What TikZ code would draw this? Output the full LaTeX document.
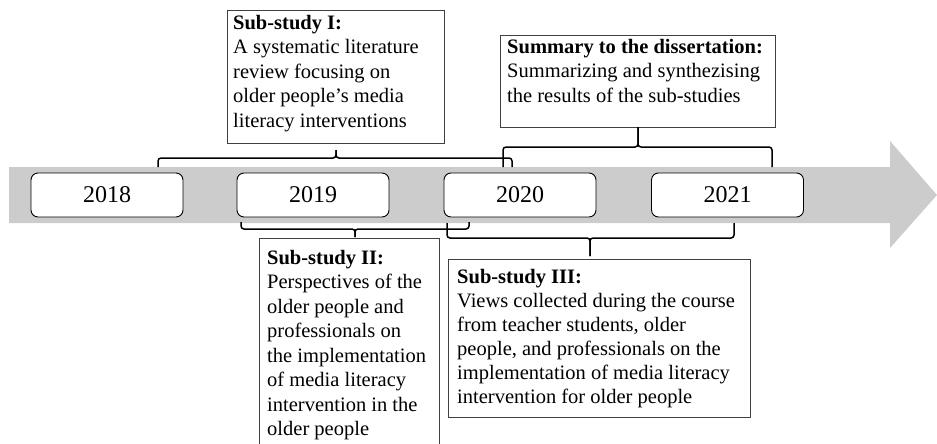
\documentclass[tikz,border=0pt]{standalone}
\usepackage{fontspec}
\setmainfont{Liberation Serif}
\begin{document}
\begin{tikzpicture}[x=1pt,y=-1pt,
  yearbox/.style={draw=black, line width=0.9pt, rounded corners=7pt, fill=white,
    minimum width=152pt, minimum height=44pt, inner sep=0pt,
    font=\fontsize{24}{28}\selectfont},
  studybox/.style={draw=black!75, line width=1pt, fill=white, inner sep=0pt},
  boxtext/.style={anchor=north west, inner sep=0pt, align=left,
    font=\fontsize{20.5}{24.5}\selectfont},
  brace/.style={draw=black, line width=1.5pt, rounded corners=3pt}]

\clip (0,0) rectangle (937,444);

% timeline arrow
\fill[black!20] (9,167) -- (890,167) -- (890,141) -- (937,195) -- (890,248)
  -- (890,223) -- (9,223) -- cycle;

% study boxes
\node[studybox, minimum width=217pt, minimum height=132pt] (s1) at (335.5,77) {};
\node[studybox, minimum width=275pt, minimum height=91pt] (sum) at (637.5,81.5) {};
\node[studybox, minimum width=180pt, minimum height=222pt] (s2) at (349,349) {};
\node[studybox, minimum width=302pt, minimum height=158pt] (s3) at (599,338) {};

\node[boxtext] (t1) at (233,15) {\textbf{Sub-study I:}\\A systematic literature\\review focusing on\\older people’s media\\literacy interventions};
\node[boxtext] (tsum) at (507,39) {\textbf{Summary to the dissertation:}\\Summarizing and synthezising\\the results of the sub-studies};
\node[boxtext] (t2) at (267,250) {\textbf{Sub-study II:}\\Perspectives of the\\older people and\\professionals on\\the implementation\\of media literacy\\intervention in the\\older people};
\node[boxtext, font=\fontsize{20.5}{24}\selectfont] (t3) at (457,269) {\textbf{Sub-study III:}\\Views collected during the course\\from teacher students, older\\people, and professionals on the\\implementation of media literacy\\intervention for older people};

% bracket anchor points
\coordinate (b1L) at (158,167); \coordinate (b1R) at (512,167);
\coordinate (b1M) at (336,158); \coordinate (b1T) at (336,150);
\coordinate (bsL) at (503,167); \coordinate (bsR) at (772,167);
\coordinate (bsM) at (638,147); \coordinate (bsT) at (638,127);
\coordinate (b2L) at (241,222); \coordinate (b2R) at (469,222);
\coordinate (b2M) at (355,229); \coordinate (b2T) at (355,237);
\coordinate (b3L) at (447,223); \coordinate (b3R) at (734,223);
\coordinate (b3M) at (590,238); \coordinate (b3T) at (590,256);

% brackets
\draw[brace] (b1L) |- (b1M) -- (b1T);
\draw[brace] (b1T) -- (b1M) -| (b1R);
\draw[brace] (bsL) |- (bsM) -- (bsT);
\draw[brace] (bsT) -- (bsM) -| (bsR);
\draw[brace] (b2L) |- (b2M) -- (b2T);
\draw[brace] (b2T) -- (b2M) -| (b2R);
\draw[brace] (b3L) |- (b3M) -- (b3T);
\draw[brace] (b3T) -- (b3M) -| (b3R);

% years
\node[yearbox] (y18) at (107,195) {2018};
\node[yearbox] (y19) at (313,195) {2019};
\node[yearbox] (y20) at (520,195) {2020};
\node[yearbox] (y21) at (727.5,195) {2021};
\end{tikzpicture}
\end{document}
